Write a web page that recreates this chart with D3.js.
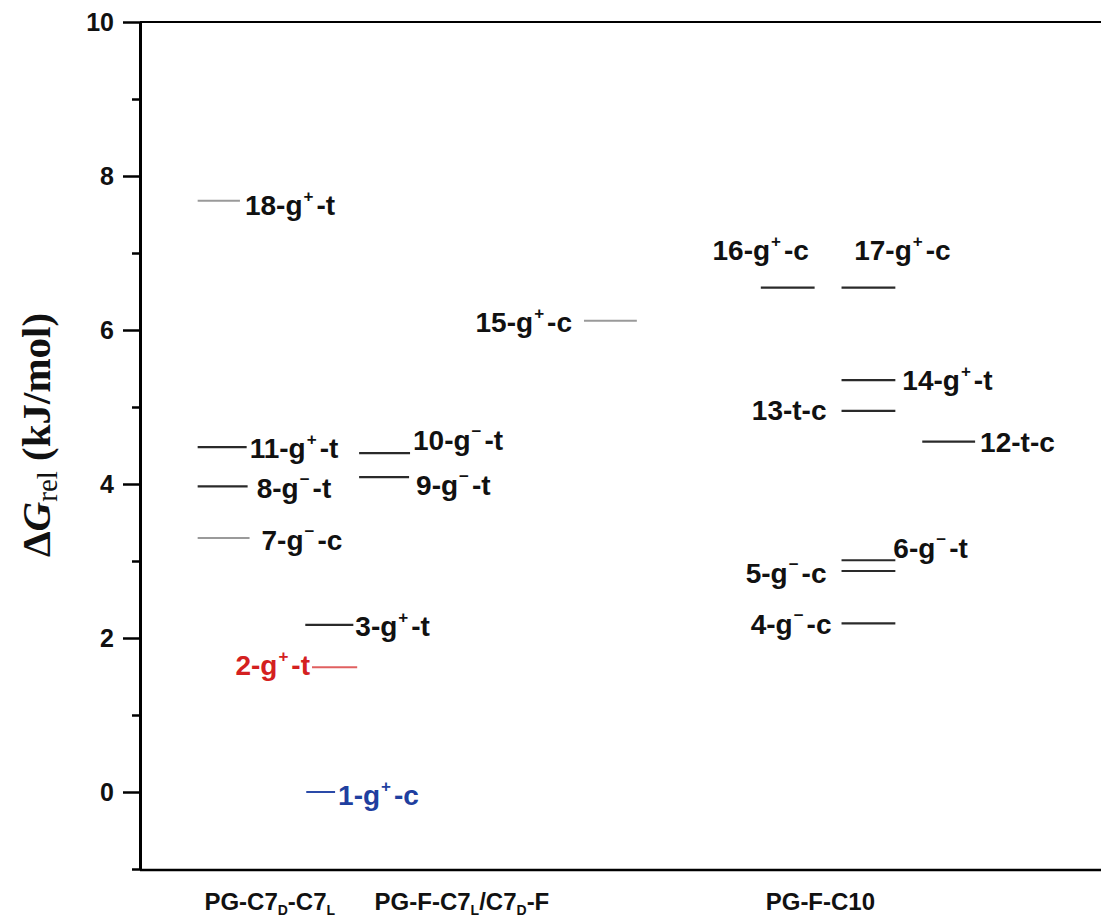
<!DOCTYPE html>
<html>
<head>
    <meta charset="utf-8">
    <title>Relative free energies of conformers</title>
    <style>
        body { margin: 0; background: #ffffff; }
        .tick-label { font-family: Arial, "Liberation Sans", sans-serif; font-weight: bold; }
        .lvl-label { font-family: Arial, "Liberation Sans", sans-serif; font-weight: bold; font-size: 28px; }
        .cat-label { font-family: Arial, "Liberation Sans", sans-serif; font-weight: bold; font-size: 24px; }
        .y-title { font-family: "Liberation Serif", "Times New Roman", serif; font-weight: bold; font-size: 41px; }
    </style>
    <script src="https://d3js.org/d3.v7.min.js"></script>
</head>
<body>
<div id="chart"></div>
<script>
// conformer labels ("^x" = superscript character)
var names = ["1-g^+-c", "2-g^+-t", "3-g^+-t", "4-g^−-c", "5-g^−-c", "6-g^−-t",
             "7-g^−-c", "8-g^−-t", "9-g^−-t", "10-g^−-t", "11-g^+-t", "12-t-c",
             "13-t-c", "14-g^+-t", "15-g^+-c", "16-g^+-c", "17-g^+-c", "18-g^+-t"];
// relative free energies, kJ/mol
var dG = [0.00, 1.62, 2.17, 2.19, 2.87, 3.01,
          3.30, 3.97, 4.09, 4.40, 4.48, 4.55,
          4.95, 5.35, 6.12, 6.55, 6.55, 7.68];
// level kind: colour class
var kind = ["blue", "red", "dark", "dark", "dark", "dark",
            "gray", "dark", "dark", "dark", "dark", "dark",
            "dark", "dark", "gray", "dark", "dark", "gray"];
// horizontal start / end of each level (x axis units, 0..100)
var xStart = [17.3, 17.9, 17.2, 73.0, 73.0, 73.0,
              6.0, 6.0, 22.8, 22.8, 6.0, 81.4,
              73.0, 73.0, 46.2, 64.6, 73.0, 6.0];
var xEnd   = [20.3, 22.6, 22.2, 78.6, 78.6, 78.6,
              11.4, 11.2, 28.0, 28.1, 11.1, 86.9,
              78.6, 78.6, 51.7, 70.2, 78.6, 10.4];

var categories = ["PG-C7_D-C7_L", "PG-F-C7_L/C7_D-F", "PG-F-C10"];
var catPos = [13.5, 33.5, 70.8];

var majorTicks = [0, 2, 4, 6, 8, 10];
var minorTicks = [-1, 1, 3, 5, 7, 9];

// label placement: side, x gap (px), y offset (px)
var labelSide = ["r", "l", "r", "l", "l", "r", "r", "r", "r", "r", "r", "r", "l", "r", "l", "m", "m", "r"];
var labelGap  = [3, 2, 2, 10, 15, -2, 12, 9, 7, 3, 3, 5, 15, 7, 12, -27, 34, 5];
var labelDy   = [3, -2, 1, 1, 2, -12, 2, 2, 8, -13, 1, 0, -1, 0, 1, -38, -38, 4];

var colors = { dark: "#2a2a2a", gray: "#9a9a9a", red: "#e06060", blue: "#2a4aa8" };
var textColors = { dark: "#111111", gray: "#111111", red: "#d42020", blue: "#1f3f9f" };

var W = 1101, H = 919;
var plotLeft = 140, plotRight = 1101, plotTop = 22, plotBottom = 869;

var svg = d3.select("#chart").append("svg")
    .attr("width", W).attr("height", H);

var x = d3.scaleLinear().domain([0, 100]).range([plotLeft, plotRight]);
var y = d3.scaleLinear().domain([-1, 10]).range([plotBottom, plotTop]);

// frame lines (top and bottom run off the right edge)
svg.append("line").attr("x1", plotLeft).attr("x2", plotRight).attr("y1", y(10)).attr("y2", y(10))
    .attr("stroke", "#000").attr("stroke-width", 2);
svg.append("line").attr("x1", plotLeft).attr("x2", plotRight).attr("y1", y(-1) + 1).attr("y2", y(-1) + 1)
    .attr("stroke", "#000").attr("stroke-width", 2.5);

// minor ticks
svg.append("g")
    .attr("transform", "translate(" + plotLeft + ",0)")
    .call(d3.axisLeft(y).tickValues(minorTicks).tickSize(8).tickFormat(""))
    .call(function(g) {
        g.select(".domain").remove();
        g.selectAll("line").attr("stroke-width", 2.5);
    });

// major ticks + axis line
svg.append("g")
    .attr("transform", "translate(" + plotLeft + ",0)")
    .call(d3.axisLeft(y).tickValues(majorTicks).tickSize(17).tickSizeOuter(0).tickPadding(9).tickFormat(d3.format("d")))
    .call(function(g) {
        g.select(".domain").attr("stroke-width", 3);
        g.selectAll("line").attr("stroke-width", 2.5);
        g.selectAll("text").attr("class", "tick-label").attr("fill", "#111").attr("font-size", null).attr("font-family", null);
    });
svg.selectAll(".tick-label").style("font-size", "25px");

// y title
var yt = svg.append("text")
    .attr("class", "y-title")
    .attr("transform", "translate(50,435) rotate(-90)")
    .attr("text-anchor", "middle")
    .attr("fill", "#111");
yt.append("tspan").text("Δ");
yt.append("tspan").attr("font-style", "italic").text("G");
yt.append("tspan").attr("font-weight", "normal").attr("font-size", "29px").attr("dy", 7).text("rel");
yt.append("tspan").attr("dy", -7).text(" (kJ/mol)");

// energy levels
var levels = names.map(function(n, i) {
    return { name: n, g: dG[i], kind: kind[i], x0: xStart[i], x1: xEnd[i],
             side: labelSide[i], gap: labelGap[i], dy: labelDy[i] };
});

svg.selectAll(".level")
    .data(levels)
    .enter()
    .append("line")
    .attr("class", "level")
    .attr("x1", function(d) { return x(d.x0); })
    .attr("x2", function(d) { return x(d.x1); })
    .attr("y1", function(d) { return y(d.g); })
    .attr("y2", function(d) { return y(d.g); })
    .attr("stroke", function(d) { return colors[d.kind]; })
    .attr("stroke-width", function(d) { return d.kind == "dark" ? 2.2 : 2; });

function addRich(textSel, str, size, subShift) {
    // "^x" -> superscript, "_x" -> subscript
    var parts = str.split(/([\^_].)/);
    var shift = 0;
    parts.forEach(function(p) {
        if (!p) return;
        if (p[0] == "^" || p[0] == "_") {
            var s = p[0] == "^" ? -Math.round(size * 0.47) : subShift;
            textSel.append("tspan").attr("dy", s - shift).attr("dx", p[0] == "^" ? 1 : 0)
                .style("font-size", Math.round(size * 0.6) + "px").text(p[1]);
            shift = s;
        } else {
            textSel.append("tspan").attr("dy", -shift).attr("dx", shift < 0 ? 3 : 0).text(p);
            shift = 0;
        }
    });
}

var lbl = svg.selectAll(".lvl-label")
    .data(levels)
    .enter()
    .append("text")
    .attr("class", "lvl-label")
    .attr("fill", function(d) { return textColors[d.kind]; })
    .attr("text-anchor", function(d) { return d.side == "r" ? "start" : d.side == "l" ? "end" : "middle"; })
    .attr("x", function(d) {
        if (d.side == "r") return x(d.x1) + d.gap;
        if (d.side == "l") return x(d.x0) - d.gap;
        return (x(d.x0) + x(d.x1)) / 2 + d.gap;
    })
    .attr("y", function(d) { return y(d.g) + d.dy + 10; });
lbl.each(function(d) { addRich(d3.select(this), d.name, 28, 0); });

// category labels
categories.forEach(function(c, i) {
    var t = svg.append("text")
        .attr("class", "cat-label")
        .attr("x", x(catPos[i]))
        .attr("y", 910)
        .attr("text-anchor", "middle")
        .attr("fill", "#111");
    addRich(t, c, 24, 5);
});
</script>
</body>
</html>
